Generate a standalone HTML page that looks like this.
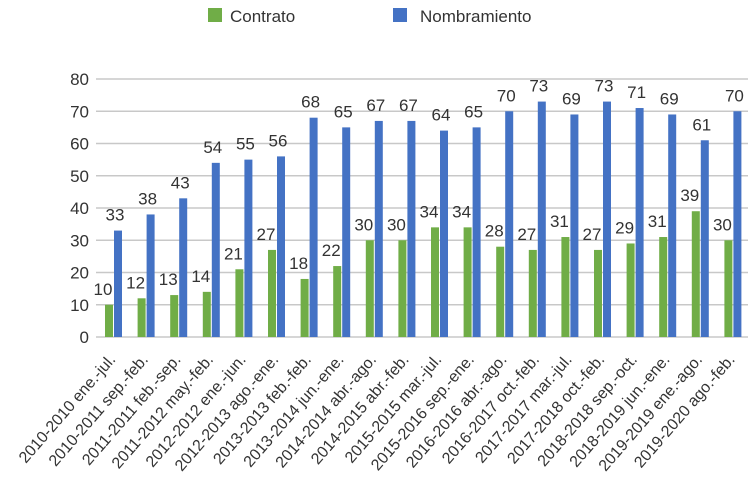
<!DOCTYPE html>
<html><head><meta charset="utf-8"><style>
body{margin:0;background:#fff;}
svg{display:block;font-family:"Liberation Sans",sans-serif;}
</style></head><body>
<svg id="chart" width="756" height="494" viewBox="0 0 756 494" xmlns="http://www.w3.org/2000/svg">
<g>
<rect x="208" y="8" width="14" height="14" fill="#70ad47"/>
<text x="230" y="22" font-size="17" fill="#333">Contrato</text>
<rect x="393" y="8" width="14" height="14" fill="#4472c4"/>
<text x="420" y="22" font-size="17" fill="#333">Nombramiento</text>
</g>
<g id="grid"></g><g id="bars"></g><g id="labels"></g><g id="xlabels"></g>
</svg>
<script>
const categories=["2010-2010 ene.-jul.","2010-2011 sep.-feb.","2011-2011 feb.-sep.","2011-2012 may.-feb.","2012-2012 ene.-jun.","2012-2013 ago.-ene.","2013-2013 feb.-feb.","2013-2014 jun.-ene.","2014-2014 abr.-ago.","2014-2015 abr.-feb.","2015-2015 mar.-jul.","2015-2016 sep.-ene.","2016-2016 abr.-ago.","2016-2017 oct.-feb.","2017-2017 mar.-jul.","2017-2018 oct.-feb.","2018-2018 sep.-oct.","2018-2019 jun.-ene.","2019-2019 ene.-ago.","2019-2020 ago.-feb."];
const contrato=[10,12,13,14,21,27,18,22,30,30,34,34,28,27,31,27,29,31,39,30];
const nombramiento=[33,38,43,54,55,56,68,65,67,67,64,65,70,73,69,73,71,69,61,70];
const yTicks=[0,10,20,30,40,50,60,70,80];
const NS="http://www.w3.org/2000/svg";
const x0=96,x1=748,yb=337,yt=79,ymax=80;
const band=(x1-x0)/categories.length;
const y=v=>yb-(v/ymax)*(yb-yt);
const xb=i=>x0+i*band;
function mk(t,a,p){const e=document.createElementNS(NS,t);for(const k in a)e.setAttribute(k,a[k]);p.appendChild(e);return e;}
const grid=document.getElementById('grid'),bars=document.getElementById('bars'),labels=document.getElementById('labels'),xl=document.getElementById('xlabels');
yTicks.forEach(t=>{
 const l=mk('line',{x1:x0,x2:x1,y1:y(t),y2:y(t),stroke:'#c8c8c8','stroke-width':1.5},grid);
 
 
 const tx=mk('text',{x:89,y:y(t)+6,'font-size':17,fill:'#333','text-anchor':'end'},grid);
 tx.textContent=t;
 
 
});
categories.forEach((c,i)=>{
 const gx=xb(i)+9,bx=xb(i)+18;
 const g=mk('rect',{x:gx,y:y(contrato[i]),width:8,height:yb-y(contrato[i]),fill:'#70ad47'},bars);
 
 
 const b=mk('rect',{x:bx,y:y(nombramiento[i]),width:8,height:yb-y(nombramiento[i]),fill:'#4472c4'},bars);
 
 
 const gl=mk('text',{x:gx-2,y:y(contrato[i])-10,'font-size':17,fill:'#333','text-anchor':'middle'},labels);
 gl.textContent=contrato[i];
 
 
 const bl=mk('text',{x:bx+1,y:y(nombramiento[i])-10,'font-size':17,fill:'#333','text-anchor':'middle'},labels);
 bl.textContent=nombramiento[i];
 
 
 const cx=xb(i)+band/2+4, cy=360;
 const t=mk('text',{x:cx,y:cy,'font-size':16,fill:'#333','text-anchor':'end',transform:`rotate(-49 ${cx} ${cy})`},xl);
 t.textContent=c;
 
 
});
</script>
</body></html>
